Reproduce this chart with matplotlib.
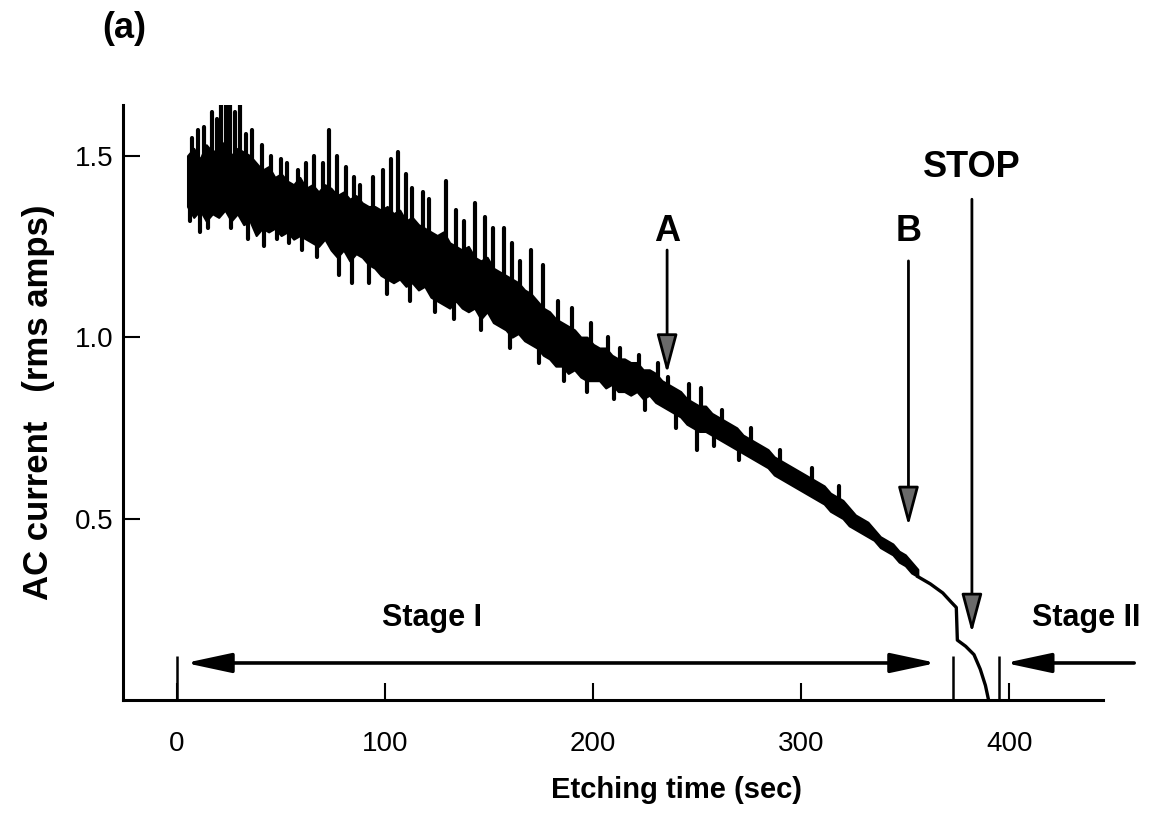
import numpy as np
import matplotlib

matplotlib.use("Agg")
import matplotlib.pyplot as plt

# noisy stage-I trace, sampled every 3 s: upper and lower edge of the dense band
trace_t = np.arange(5, 357, 3)
trace_hi = [
    1.50, 1.52, 1.49, 1.53, 1.51, 1.52, 1.54, 1.50, 1.52, 1.51,
    1.50, 1.48, 1.46, 1.47, 1.44, 1.45, 1.43, 1.42, 1.44, 1.41,
    1.42, 1.40, 1.42, 1.41, 1.39, 1.40, 1.38, 1.39, 1.37, 1.36,
    1.36, 1.35, 1.36, 1.34, 1.35, 1.32, 1.33, 1.31, 1.30, 1.29,
    1.28, 1.29, 1.26, 1.25, 1.24, 1.25, 1.22, 1.21, 1.22, 1.19,
    1.18, 1.17, 1.16, 1.15, 1.13, 1.12, 1.10, 1.08, 1.07, 1.05,
    1.04, 1.03, 1.02, 1.00, 1.00, 0.98, 0.97, 0.97, 0.95, 0.94,
    0.94, 0.93, 0.93, 0.91, 0.91, 0.90, 0.88, 0.87, 0.86, 0.85,
    0.83, 0.82, 0.81, 0.81, 0.79, 0.78, 0.77, 0.76, 0.75, 0.73,
    0.72, 0.71, 0.70, 0.69, 0.67, 0.66, 0.65, 0.64, 0.63, 0.62,
    0.61, 0.60, 0.59, 0.57, 0.56, 0.55, 0.53, 0.51, 0.50, 0.49,
    0.47, 0.45, 0.44, 0.43, 0.41, 0.40, 0.38, 0.36,
]
trace_lo = [
    1.36, 1.33, 1.35, 1.32, 1.34, 1.33, 1.35, 1.32, 1.34, 1.31,
    1.32, 1.28, 1.30, 1.29, 1.30, 1.28, 1.29, 1.27, 1.28, 1.27,
    1.26, 1.25, 1.27, 1.24, 1.22, 1.24, 1.21, 1.23, 1.22, 1.20,
    1.19, 1.17, 1.16, 1.15, 1.16, 1.14, 1.15, 1.13, 1.14, 1.11,
    1.10, 1.09, 1.08, 1.10, 1.08, 1.07, 1.08, 1.05, 1.07, 1.04,
    1.03, 1.02, 1.00, 1.01, 0.99, 0.98, 0.97, 0.95, 0.94, 0.92,
    0.92, 0.90, 0.91, 0.89, 0.88, 0.88, 0.88, 0.86, 0.87, 0.85,
    0.85, 0.84, 0.85, 0.83, 0.84, 0.82, 0.81, 0.80, 0.79, 0.78,
    0.76, 0.75, 0.74, 0.74, 0.73, 0.72, 0.71, 0.70, 0.69, 0.68,
    0.67, 0.66, 0.65, 0.64, 0.62, 0.61, 0.60, 0.59, 0.58, 0.57,
    0.56, 0.55, 0.54, 0.52, 0.51, 0.50, 0.48, 0.47, 0.46, 0.45,
    0.44, 0.42, 0.41, 0.40, 0.38, 0.37, 0.35, 0.34,
]

# isolated noise spikes sticking out of the band
spike_up_t = [7, 10, 13, 17, 19, 21, 23.5, 25.5, 28, 30, 33, 36, 41, 45, 50, 53,
              58, 62, 66, 70, 73, 77, 81, 85, 88, 94, 99, 103, 106, 110, 113, 118,
              121, 129, 134, 138, 143, 148, 152, 157, 161, 165, 170, 176, 183, 190,
              199, 207, 213, 222, 231, 236, 246, 252, 262, 276, 290, 305, 318]
spike_up_i = [1.55, 1.57, 1.58, 1.62, 1.60, 1.66, 1.70, 1.64, 1.62, 1.67, 1.56, 1.57,
              1.53, 1.50, 1.49, 1.48, 1.46, 1.48, 1.50, 1.48, 1.57, 1.50, 1.47, 1.44,
              1.42, 1.44, 1.46, 1.49, 1.51, 1.45, 1.41, 1.40, 1.38, 1.43, 1.35, 1.32,
              1.37, 1.33, 1.30, 1.30, 1.26, 1.21, 1.24, 1.20, 1.10, 1.08, 1.04, 1.00,
              0.97, 0.95, 0.93, 0.89, 0.87, 0.86, 0.80, 0.75, 0.69, 0.64, 0.59]
spike_dn_t = [6, 11, 15, 26, 34, 42, 48, 54, 60, 67, 78, 84, 92, 101, 112, 124,
              133, 146, 160, 174, 186, 197, 210, 225, 240, 250, 258, 270]
spike_dn_i = [1.32, 1.29, 1.30, 1.30, 1.27, 1.25, 1.27, 1.26, 1.24, 1.22, 1.17, 1.15,
              1.15, 1.12, 1.10, 1.07, 1.05, 1.02, 0.97, 0.93, 0.88, 0.85, 0.83, 0.80,
              0.75, 0.69, 0.70, 0.66]

# smooth end of the trace (stage II)
tail_t = [356, 362, 368, 372, 374.5, 375, 379, 383, 386, 388.5, 390]
tail_i = [0.34, 0.32, 0.295, 0.27, 0.255, 0.165, 0.148, 0.125, 0.085, 0.04, 0.0]

x_ticks = [0, 100, 200, 300, 400]
y_ticks = [0.5, 1.0, 1.5]
y_tick_labels = ["0.5", "1.0", "1.5"]

# annotation arrows: label, time, label height, arrow top, arrow tip
markers = [
    ("A", 235.5, 1.29, 1.24, 0.90),
    ("B", 351.5, 1.29, 1.21, 0.48),
    ("STOP", 382.0, 1.467, 1.38, 0.185),
]
stage_lines_t = [0, 373, 395]
stage_line_top = 0.12

plt.rcParams["font.family"] = ["Liberation Sans", "DejaVu Sans"]

fig = plt.figure(figsize=(11.54, 8.13), dpi=100)
ax = fig.add_axes([0.1066, 0.139, 0.8492, 0.732])

ax.fill_between(trace_t, trace_lo, trace_hi, color="black", lw=1.5)
mid = (np.interp(spike_up_t, trace_t, trace_hi) + np.interp(spike_up_t, trace_t, trace_lo)) / 2
ax.vlines(spike_up_t, mid, spike_up_i, color="black", lw=3.0, capstyle="round")
mid = (np.interp(spike_dn_t, trace_t, trace_hi) + np.interp(spike_dn_t, trace_t, trace_lo)) / 2
ax.vlines(spike_dn_t, spike_dn_i, mid, color="black", lw=3.0, capstyle="round")
ax.plot(tail_t, tail_i, color="black", lw=2.4)

ax.vlines(stage_lines_t, 0, stage_line_top, color="black", lw=1.8)

head = dict(fc="#6a6a6a", ec="black", lw=2.0, shrinkA=0, shrinkB=0,
            arrowstyle="-|>,head_length=1.2,head_width=0.32", mutation_scale=20)
for label, t, ty, top, tip in markers:
    ax.annotate("", xy=(t, tip), xytext=(t, top), arrowprops=head)
    ax.text(t, ty, label, ha="center", va="center", fontsize=26, fontweight="bold")

stage = dict(color="black", lw=2.6, shrinkA=0, shrinkB=0, mutation_scale=20)
ax.annotate("", xy=(4, 0.102), xytext=(365, 0.102),
            arrowprops=dict(arrowstyle="<|-|>,head_length=1.4,head_width=0.3", **stage))
ax.annotate("", xy=(398, 0.102), xytext=(460, 0.102), annotation_clip=False,
            arrowprops=dict(arrowstyle="-|>,head_length=1.4,head_width=0.3", **stage))
ax.text(122.6, 0.227, "Stage I", ha="center", va="center", fontsize=22, fontweight="bold")
ax.text(437, 0.227, "Stage II", ha="center", va="center", fontsize=22, fontweight="bold",
        clip_on=False)

ax.set_xlim(-26, 445)
ax.set_ylim(0, 1.64)
ax.set_xticks(x_ticks)
ax.set_yticks(y_ticks)
ax.set_yticklabels(y_tick_labels)
ax.tick_params(direction="in", length=12, width=1.5, labelsize=20)
ax.tick_params(axis="x", pad=22)
ax.tick_params(axis="y", pad=7)
for side in ("top", "right"):
    ax.spines[side].set_visible(False)
for side in ("left", "bottom"):
    ax.spines[side].set_linewidth(2.2)

ax.set_xlabel("Etching time (sec)", fontsize=21, fontweight="bold")
ax.xaxis.set_label_coords(0.565, -0.128)
ax.set_ylabel("AC current   (rms amps)", fontsize=25, fontweight="bold", labelpad=14)
fig.text(0.108, 0.965, "(a)", fontsize=26, fontweight="bold", ha="center", va="center")

fig.savefig("out.png", dpi=100)
